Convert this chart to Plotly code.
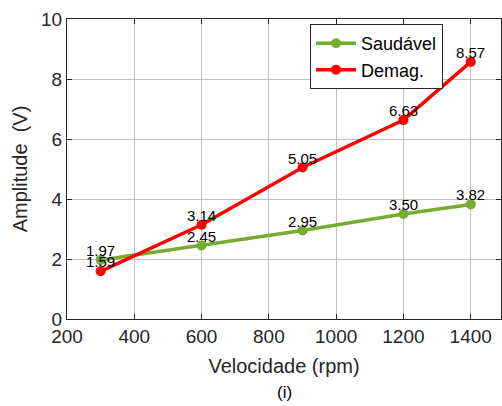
import plotly.graph_objects as go

speeds = [300, 600, 900, 1200, 1400]
saudavel = [1.97, 2.45, 2.95, 3.50, 3.82]
demag = [1.59, 3.14, 5.05, 6.63, 8.57]
x_ticks = [200, 400, 600, 800, 1000, 1200, 1400]
y_ticks = [0, 2, 4, 6, 8, 10]

fig = go.Figure()
fig.add_trace(go.Scatter(x=speeds, y=saudavel, mode="lines+markers", name="Saudável",
                         line=dict(color="#77AC30", width=3.5), marker=dict(size=10, color="#77AC30")))
fig.add_trace(go.Scatter(x=speeds, y=demag, mode="lines+markers", name="Demag.",
                         line=dict(color="#FF0000", width=3.5), marker=dict(size=10, color="#FF0000")))

for series in (saudavel, demag):
    for xv, yv in zip(speeds, series):
        fig.add_annotation(x=xv, y=yv, text=f"{yv:.2f}", showarrow=False, yanchor="bottom",
                           yshift=-1, font=dict(size=15, color="black", family="Arial"))

axis_common = dict(showgrid=True, gridcolor="#C0C0C0", gridwidth=1, showline=True, linecolor="#262626",
                   linewidth=1, mirror="ticks", ticks="inside", ticklen=5, tickcolor="#262626",
                   tickfont=dict(size=19, color="#262626", family="Arial"), zeroline=False)

fig.update_layout(
    width=502, height=406, margin=dict(l=67, r=1, t=19, b=87),
    paper_bgcolor="white", plot_bgcolor="white",
    font=dict(family="Arial", color="#262626"),
    xaxis=dict(range=[200, 1490], tickvals=x_ticks, **axis_common,
               title=dict(text="Velocidade (rpm)", font=dict(size=20, color="#262626"), standoff=13)),
    yaxis=dict(range=[0, 10], tickvals=y_ticks, **axis_common,
               title=dict(text="Amplitude  (V)", font=dict(size=20, color="#262626"), standoff=8)),
    legend=dict(x=0.56, y=0.983, xanchor="left", yanchor="top", bgcolor="white",
                bordercolor="#262626", borderwidth=1, font=dict(size=18, color="black"),
                tracegroupgap=0, itemwidth=40),
    showlegend=True,
)
fig.add_annotation(text="(i)", xref="paper", yref="paper", x=0.5, y=-0.245, yanchor="middle",
                   showarrow=False, font=dict(size=17, color="black"))
fig.write_html("out.html")
